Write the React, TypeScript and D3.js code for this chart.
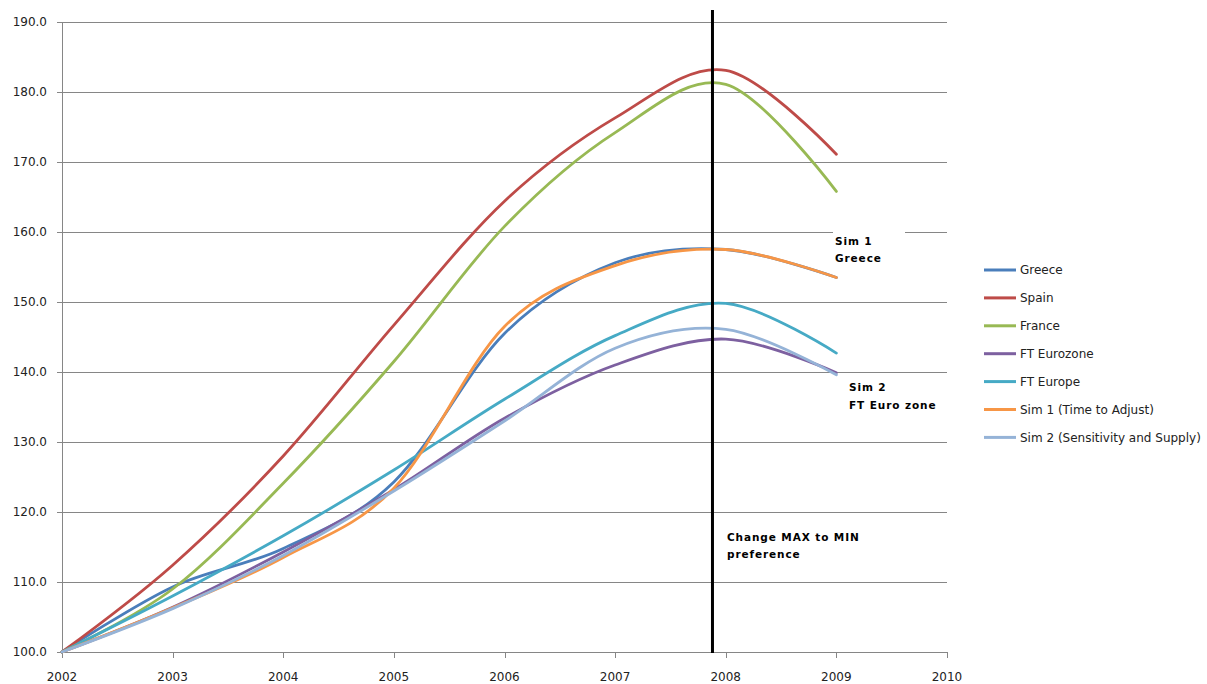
import React from "react";
import * as d3 from "d3";

// Yearly index values, 2002 = 100
const years = [2002, 2003, 2004, 2005, 2006, 2007, 2008, 2009];
const greece = [100, 109.3, 114.8, 124.3, 145.5, 155.6, 157.5, 153.5];
const spain = [100, 112.4, 128.0, 146.7, 164.4, 176.3, 183.1, 171.1];
const france = [100, 109.0, 124.1, 141.5, 160.8, 174.2, 181.1, 165.8];
const ftEurozone = [100, 106.4, 114.3, 123.2, 133.4, 141.0, 144.7, 139.9];
const ftEurope = [100, 108.0, 116.6, 126.0, 136.1, 145.2, 149.8, 142.7];
const sim1 = [100, 106.3, 113.5, 123.4, 146.5, 155.2, 157.5, 153.5];
const sim2 = [100, 106.2, 113.8, 123.0, 133.0, 143.4, 146.1, 139.6];

const seriesNames = [
  "Greece",
  "Spain",
  "France",
  "FT Eurozone",
  "FT Europe",
  "Sim 1 (Time to Adjust)",
  "Sim 2 (Sensitivity and Supply)",
];
const seriesValues = [greece, spain, france, ftEurozone, ftEurope, sim1, sim2];
const seriesColors = ["#4A7EBB", "#BE4B48", "#98B954", "#7D60A0", "#46AAC5", "#F79646", "#95B3D7"];

const xTicks = [2002, 2003, 2004, 2005, 2006, 2007, 2008, 2009, 2010];
const yTicks = [100, 110, 120, 130, 140, 150, 160, 170, 180, 190];

// Year at which the preference switches
const switchYear = 2007.88;

const W = 1207;
const H = 684;
const plot = { left: 62, right: 947, top: 22, bottom: 652 };

export default function App() {
  const x = d3.scaleLinear().domain([2002, 2010]).range([plot.left, plot.right]);
  const y = d3.scaleLinear().domain([100, 190]).range([plot.bottom, plot.top]);

  const line = d3
    .line<number>()
    .x((_, i) => x(years[i]))
    .y((d) => y(d))
    .curve(d3.curveCardinal.tension(0));

  const axisColor = "#868686";
  const tickFont = "DejaVu Sans, Verdana, sans-serif";
  const noteFont = "DejaVu Sans, Verdana, sans-serif";

  const legendX = 984;
  const legendY0 = 270;
  const legendStep = 27.9;

  return (
    <svg
      width={W}
      height={H}
      style={{ position: "absolute", left: 0, top: 0, background: "#fff" }}
    >
      <rect x={0} y={0} width={W} height={H} fill="#fff" />

      {/* horizontal gridlines */}
      {yTicks.map((t) => (
        <line
          key={"g" + t}
          x1={plot.left}
          x2={plot.right}
          y1={Math.round(y(t)) + 0.5}
          y2={Math.round(y(t)) + 0.5}
          stroke={axisColor}
          strokeWidth={1}
        />
      ))}

      {/* y axis */}
      <line
        x1={plot.left + 0.5}
        x2={plot.left + 0.5}
        y1={y(190)}
        y2={y(100) + 5}
        stroke={axisColor}
      />
      {yTicks.map((t) => (
        <g key={"yt" + t}>
          <line
            x1={plot.left - 5}
            x2={plot.left}
            y1={Math.round(y(t)) + 0.5}
            y2={Math.round(y(t)) + 0.5}
            stroke={axisColor}
          />
          <text
            x={plot.left - 15}
            y={y(t)}
            dy="0.35em"
            textAnchor="end"
            fontFamily={tickFont}
            fontSize={12}
            fill="#222"
          >
            {d3.format(".1f")(t)}
          </text>
        </g>
      ))}

      {/* x axis ticks */}
      {xTicks.map((t) => (
        <g key={"xt" + t}>
          <line
            x1={Math.round(x(t)) + 0.5}
            x2={Math.round(x(t)) + 0.5}
            y1={plot.bottom}
            y2={plot.bottom + 6}
            stroke={axisColor}
          />
          <text
            x={x(t)}
            y={plot.bottom + 29}
            textAnchor="middle"
            fontFamily={tickFont}
            fontSize={12}
            fill="#222"
          >
            {t}
          </text>
        </g>
      ))}

      {/* white backing for the Sim 1 note */}
      <rect x={833} y={y(160) - 4} width={72} height={40} fill="#fff" />

      {/* series */}
      {seriesValues.map((vals, i) => (
        <path
          key={seriesNames[i]}
          d={line(vals) || ""}
          fill="none"
          stroke={seriesColors[i]}
          strokeWidth={2.8}
          strokeLinejoin="round"
          strokeLinecap="round"
        />
      ))}

      {/* switch marker */}
      <line
        x1={x(switchYear)}
        x2={x(switchYear)}
        y1={plot.top - 12}
        y2={plot.bottom + 1}
        stroke="#000"
        strokeWidth={3}
      />

      {/* notes */}
      <g fontFamily={noteFont} fontWeight="bold" fontSize={10.5} fill="#000" letterSpacing={0.9}>
        <text x={835} y={245}>Sim 1</text>
        <text x={835} y={262}>Greece</text>
        <text x={849} y={391}>Sim 2</text>
        <text x={849} y={409}>FT Euro zone</text>
        <text x={727} y={541}>Change MAX to MIN</text>
        <text x={727} y={558}>preference</text>
      </g>

      {/* legend */}
      {seriesNames.map((name, i) => {
        const ly = legendY0 + i * legendStep;
        return (
          <g key={"lg" + name}>
            <line
              x1={legendX}
              x2={legendX + 32}
              y1={ly}
              y2={ly}
              stroke={seriesColors[i]}
              strokeWidth={3}
            />
            <text
              x={legendX + 36}
              y={ly}
              dy="0.35em"
              fontFamily={tickFont}
              fontSize={12}
              fill="#222"
            >
              {name}
            </text>
          </g>
        );
      })}
    </svg>
  );
}
